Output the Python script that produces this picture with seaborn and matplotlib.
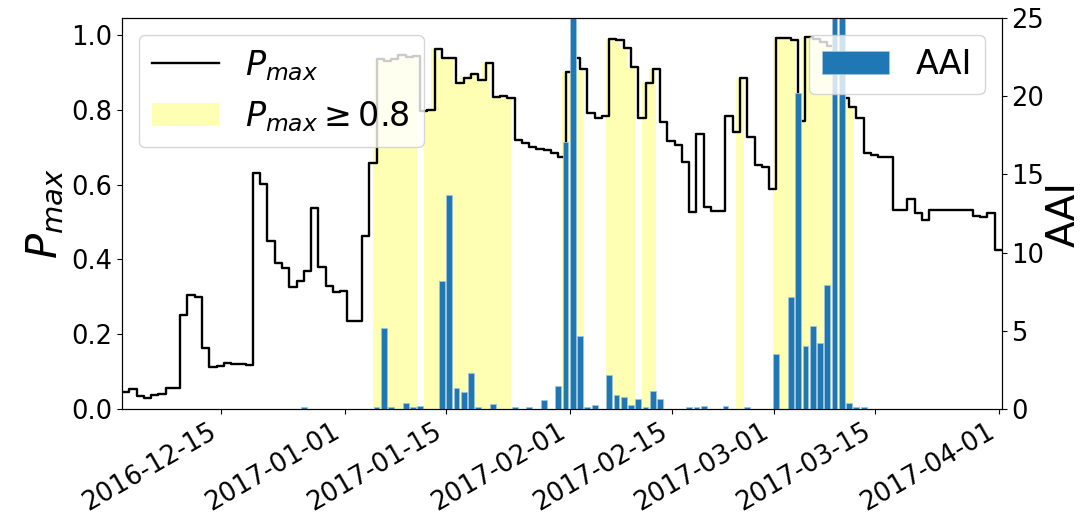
import numpy as np
import pandas as pd
import matplotlib
matplotlib.use("Agg")
import matplotlib.pyplot as plt
from matplotlib.patches import Patch
from matplotlib.lines import Line2D
import seaborn as sns

# ---------------- data ----------------
start_date = "2016-12-01 09:00"
n_days = 122

pmax = [
    0.046, 0.054, 0.035, 0.030, 0.037, 0.039, 0.057, 0.057, 0.252, 0.306,
    0.300, 0.164, 0.113, 0.115, 0.124, 0.120, 0.120, 0.117, 0.632, 0.602,
    0.448, 0.391, 0.376, 0.325, 0.341, 0.370, 0.538, 0.379, 0.328, 0.312,
    0.316, 0.234, 0.234, 0.462, 0.658, 0.935, 0.929, 0.935, 0.945, 0.942,
    0.944, 0.797, 0.800, 0.961, 0.937, 0.937, 0.872, 0.884, 0.895, 0.879,
    0.924, 0.833, 0.836, 0.832, 0.718, 0.710, 0.700, 0.694, 0.692, 0.685,
    0.674, 0.902, 0.937, 0.908, 0.790, 0.777, 0.783, 0.989, 0.987, 0.964,
    0.913, 0.777, 0.872, 0.908, 0.768, 0.717, 0.705, 0.660, 0.526, 0.736,
    0.540, 0.530, 0.528, 0.783, 0.741, 0.886, 0.726, 0.651, 0.647, 0.589,
    0.991, 0.991, 0.985, 0.769, 0.993, 0.990, 0.980, 0.970, 0.950, 0.830,
    0.808, 0.779, 0.683, 0.678, 0.674, 0.674, 0.533, 0.533, 0.560, 0.524,
    0.504, 0.531, 0.531, 0.531, 0.531, 0.531, 0.531, 0.517, 0.513, 0.525,
    0.425, 0.425,
]

aai = [0.0] * n_days
aai_values = {
    25: 0.1,
    35: 0.1, 36: 5.15, 37: 0.1, 39: 0.36, 40: 0.1, 41: 0.19,
    44: 8.2, 45: 13.7, 46: 1.34, 47: 1.09, 48: 2.28, 49: 0.1, 51: 0.32,
    54: 0.1, 56: 0.1, 58: 0.6, 60: 1.45, 61: 17.1, 62: 28.0, 63: 4.65,
    64: 0.1, 65: 0.26, 67: 2.15, 68: 0.87, 69: 0.79, 70: 0.26, 71: 0.66,
    72: 0.1, 73: 1.15, 74: 0.66, 78: 0.1, 79: 0.1, 80: 0.19, 83: 0.22,
    86: 0.1, 90: 3.5, 92: 7.18, 93: 20.2, 94: 4.03, 95: 5.33, 96: 4.24,
    97: 7.93, 98: 28.0, 99: 27.0, 100: 0.4, 101: 0.1, 102: 0.1,
}
for k, v in aai_values.items():
    aai[k] = v

# alert windows (Pmax >= 0.8 periods)
alert_windows = [
    ("2017-01-05", "2017-01-10"),
    ("2017-01-12", "2017-01-23"),
    ("2017-01-31", "2017-02-02"),
    ("2017-02-06", "2017-02-09"),
    ("2017-02-11", "2017-02-12"),
    ("2017-02-24", "2017-02-24"),
    ("2017-03-01", "2017-03-11"),
]

tick_dates = ["2016-12-15", "2017-01-01", "2017-01-15", "2017-02-01",
              "2017-02-15", "2017-03-01", "2017-03-15", "2017-04-01"]
left_ticks = [0.0, 0.2, 0.4, 0.6, 0.8, 1.0]
right_ticks = [0, 5, 10, 15, 20, 25]

# ---------------- build frame ----------------
dates = pd.date_range(start_date, periods=n_days, freq="D")
df = pd.DataFrame({"date": dates, "pmax": pmax, "aai": aai})
mask = np.zeros(n_days, dtype=bool)
norm_days = df["date"].dt.normalize()
for s, e in alert_windows:
    mask |= ((norm_days >= pd.Timestamp(s)) & (norm_days <= pd.Timestamp(e))).to_numpy()
df["alert_height"] = np.where(mask, df["pmax"], 0.0)

# ---------------- plot ----------------
plt.rcParams["font.family"] = ["DejaVu Sans"]
fig = plt.figure(figsize=(10.83, 5.15), dpi=100)
ax1 = fig.add_axes([0.1127, 0.2058, 0.8123, 0.7592])

yellow = "#ffffb3"
ax1.bar(df["date"], df["alert_height"], width=1.0, color=yellow,
        linewidth=0, align="center")
sns.lineplot(data=df, x="date", y="pmax", ax=ax1, color="black",
             linewidth=1.7, drawstyle="steps-post", legend=False)

ax1.set_xlim(dates[0], dates[-1])
ax1.set_ylim(0, 1.045)
ax1.set_yticks(left_ticks)
ax1.set_yticklabels([f"{t:.1f}" for t in left_ticks])
ax1.set_ylabel(r"$P_{max}$", fontsize=30)
ax1.set_xlabel("")

ax2 = ax1.twinx()
ax2.bar(df["date"], df["aai"], width=0.8, color="#1f77b4",
        edgecolor="#9ec3de", linewidth=0.6, label="AAI")
ax2.set_ylim(0, 25)
ax2.set_yticks(right_ticks)
ax2.set_ylabel("AAI", fontsize=28, labelpad=0)
ax2.set_xlim(dates[0], dates[-1])

ticks = [pd.Timestamp(t) for t in tick_dates]
ax1.set_xticks(ticks)
ax1.set_xticklabels(tick_dates, rotation=30, ha="right")
ax1.tick_params(axis="y", labelsize=18.5)
ax2.tick_params(axis="y", labelsize=18.5)
ax1.tick_params(axis="x", labelsize=18.5)

handles = [Line2D([0], [0], color="black", lw=1.7),
           Patch(facecolor=yellow, edgecolor="none")]
ax1.legend(handles, [r"$P_{max}$", r"$P_{max} \geq 0.8$"], loc="upper left",
           fontsize=24)
ax2.legend(loc="upper right", fontsize=24)

fig.savefig("out.png", dpi=100)
